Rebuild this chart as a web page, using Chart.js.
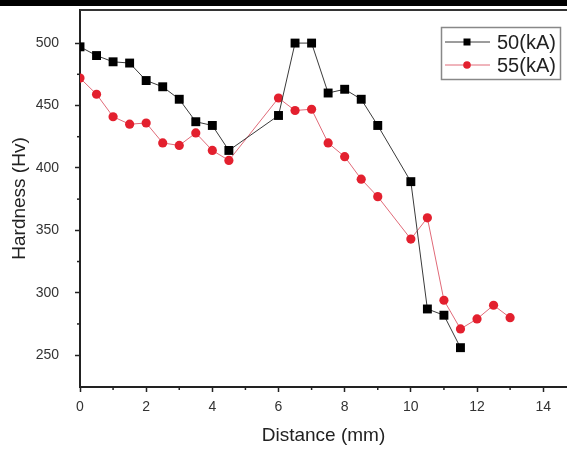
<!DOCTYPE html>
<html>
<head>
<meta charset="utf-8">
<script src="https://cdn.jsdelivr.net/npm/chart.js@4.4.1/dist/chart.umd.min.js"></script>
<style>
  html, body { margin: 0; padding: 0; background: #fff; }
  #wrap { position: relative; width: 567px; height: 450px; }
  #topbar { position: absolute; left: 0; top: 0; width: 567px; height: 6px; background: #000; }
  canvas { position: absolute; left: 0; top: 0; }
</style>
</head>
<body>
<div id="wrap">
  <canvas id="c" width="567" height="450"></canvas>
  <div id="topbar"></div>
</div>
<script>
// ---- data ----
const distance50 = [0, 0.5, 1, 1.5, 2, 2.5, 3, 3.5, 4, 4.5, 6, 6.5, 7, 7.5, 8, 8.5, 9, 10, 10.5, 11, 11.5];
const hardness50 = [497, 490, 485, 484, 470, 465, 455, 437, 434, 414, 442, 500, 500, 460, 463, 455, 434, 389, 287, 282, 256];
const distance55 = [0, 0.5, 1, 1.5, 2, 2.5, 3, 3.5, 4, 4.5, 6, 6.5, 7, 7.5, 8, 8.5, 9, 10, 10.5, 11, 11.5, 12, 12.5, 13];
const hardness55 = [472, 459, 441, 435, 436, 420, 418, 428, 414, 406, 456, 446, 447, 420, 409, 391, 377, 343, 360, 294, 271, 279, 290, 280];
const seriesLabels = ['50(kA)', '55(kA)'];
const xTicks = [0, 2, 4, 6, 8, 10, 12, 14];
const xMinorTicks = [1, 3, 5, 7, 9, 11, 13];
const yTicks = [250, 300, 350, 400, 450, 500];
const yMinorTicks = [275, 325, 375, 425, 475];
const xTitle = 'Distance (mm)';
const yTitle = 'Hardness (Hv)';

const FONT = '"Liberation Sans", Arial, sans-serif';
const AXIS = '#222';

function noPad(s) { s.paddingTop = 0; s.paddingBottom = 0; s.paddingLeft = 0; s.paddingRight = 0; }

const minorTicks = {
  id: 'minorTicks',
  afterDraw(chart) {
    const ctx = chart.ctx, a = chart.chartArea;
    const xs = chart.scales.x, ys = chart.scales.y;
    ctx.save();
    ctx.strokeStyle = AXIS;
    ctx.lineWidth = 1.5;
    xMinorTicks.forEach(v => {
      const px = xs.getPixelForValue(v);
      ctx.beginPath(); ctx.moveTo(px, a.bottom); ctx.lineTo(px, a.bottom + 3); ctx.stroke();
    });
    yMinorTicks.forEach(v => {
      const py = ys.getPixelForValue(v);
      ctx.beginPath(); ctx.moveTo(a.left, py); ctx.lineTo(a.left - 3, py); ctx.stroke();
    });
    // top frame line
    ctx.strokeStyle = '#333';
    ctx.lineWidth = 2;
    ctx.beginPath(); ctx.moveTo(a.left, a.top); ctx.lineTo(a.right, a.top); ctx.stroke();
    ctx.restore();
  }
};

const boxLegend = {
  id: 'boxLegend',
  afterDraw(chart) {
    const ctx = chart.ctx;
    ctx.save();
    ctx.strokeStyle = '#888';
    ctx.lineWidth = 1.5;
    ctx.strokeRect(441.5, 27.5, 119, 52);
    chart.data.datasets.forEach((ds, i) => {
      const y = 42 + i * 23;
      ctx.strokeStyle = ds.borderColor;
      ctx.lineWidth = 1;
      ctx.beginPath(); ctx.moveTo(445, y); ctx.lineTo(490, y); ctx.stroke();
      ctx.fillStyle = ds.pointBackgroundColor;
      ctx.beginPath();
      if (ds.pointStyle === 'rect') ctx.rect(467 - 3.5, y - 3.5, 7, 7);
      else ctx.arc(467, y, 3.8, 0, Math.PI * 2);
      ctx.fill();
      ctx.fillStyle = '#222';
      ctx.font = '20px ' + FONT;
      ctx.textBaseline = 'middle';
      ctx.fillText(ds.label, 497, y + 1);
    });
    ctx.restore();
  }
};

new Chart(document.getElementById('c'), {
  type: 'line',
  data: {
    datasets: [
      {
        label: seriesLabels[0],
        data: distance50.map((x, i) => ({ x, y: hardness50[i] })),
        borderColor: '#3a3a3a',
        borderWidth: 1,
        pointStyle: 'rect',
        pointRadius: 6.3,
        pointBackgroundColor: '#000',
        pointBorderColor: '#000',
        pointBorderWidth: 0,
        tension: 0
      },
      {
        label: seriesLabels[1],
        data: distance55.map((x, i) => ({ x, y: hardness55[i] })),
        borderColor: '#e06a78',
        borderWidth: 1,
        pointStyle: 'circle',
        pointRadius: 4.6,
        pointBackgroundColor: '#e3202e',
        pointBorderColor: '#e3202e',
        pointBorderWidth: 0,
        tension: 0
      }
    ]
  },
  options: {
    responsive: false,
    animation: false,
    layout: { autoPadding: false, padding: { top: 10, right: 0, left: 0, bottom: 0 } },
    plugins: { legend: { display: false }, tooltip: { enabled: false } },
    scales: {
      x: {
        type: 'linear',
        min: 0,
        max: 14.72,
        afterBuildTicks: s => { s.ticks = xTicks.map(v => ({ value: v })); },
        afterFit: s => { s.height = 63; noPad(s); },
        grid: { drawOnChartArea: false, drawTicks: true, tickLength: 5, tickColor: AXIS, tickWidth: 1.5 },
        border: { display: true, color: AXIS, width: 2 },
        ticks: { color: '#333', font: { family: FONT, size: 14 }, padding: 7, maxRotation: 0, autoSkip: false },
        title: { display: true, text: xTitle, color: '#222', font: { family: FONT, size: 19 }, padding: { top: 0, bottom: 3 } }
      },
      y: {
        type: 'linear',
        min: 224.5,
        max: 526.5,
        afterBuildTicks: s => { s.ticks = yTicks.map(v => ({ value: v })); },
        afterFit: s => { s.width = 80; noPad(s); },
        grid: { drawOnChartArea: false, drawTicks: true, tickLength: 5, tickColor: AXIS, tickWidth: 1.5 },
        border: { display: true, color: AXIS, width: 2 },
        ticks: { color: '#333', font: { family: FONT, size: 14 }, padding: 16, autoSkip: false },
        title: { display: true, text: yTitle, color: '#222', font: { family: FONT, size: 19 }, padding: { top: 8, bottom: 0 } }
      }
    }
  },
  plugins: [minorTicks, boxLegend]
});
</script>
</body>
</html>
